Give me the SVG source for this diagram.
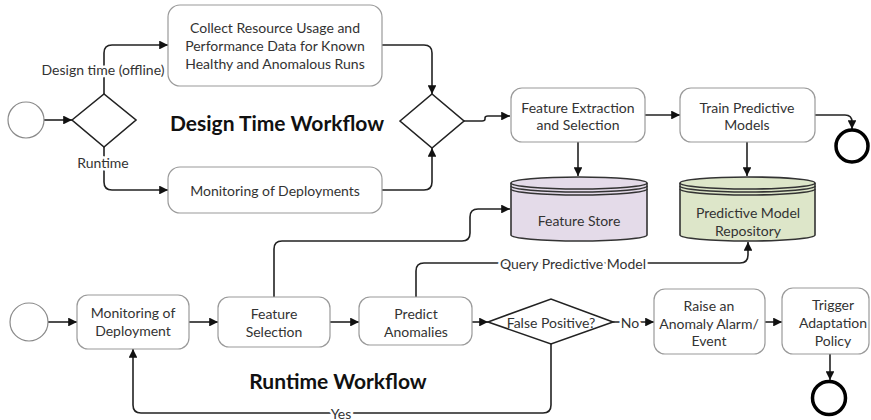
<svg xmlns="http://www.w3.org/2000/svg" width="871" height="420" viewBox="0 0 871 420">
  <style>
    .box { fill: #ffffff; stroke: #9a9a9a; stroke-width: 1.2; }
    .gw { fill: #ffffff; stroke: #222222; stroke-width: 1.6; }
    .start { fill: #ffffff; stroke: #8a8a8a; stroke-width: 1.2; }
    .end { fill: #ffffff; stroke: #000000; stroke-width: 3.5; }
    .edge { fill: none; stroke: #222222; stroke-width: 1.6; marker-end: url(#arrow); }
    .line { fill: none; stroke: #222222; stroke-width: 1.6; }
    .db { stroke: #333333; stroke-width: 1.6; }
    text { font-family: "Lato", "Liberation Sans", sans-serif; font-size: 14px; fill: #333333; text-anchor: middle; dominant-baseline: central; }
    .title { font-size: 21px; font-weight: bold; fill: #111111; }
    .lbl { stroke: #ffffff; stroke-width: 5; paint-order: stroke; stroke-linejoin: round; }
  </style>
  <defs>
    <marker id="arrow" viewBox="0 0 10 10" refX="10" refY="5" markerWidth="5.5" markerHeight="5.5" orient="auto" markerUnits="strokeWidth">
      <path d="M0,0 L10,5 L0,10 z" fill="#111111"/>
    </marker>
  </defs>

  <!-- connectors -->
  <g id="connectors">
    <!-- design time flow -->
    <path class="edge" d="M44,120 H72"/>
    <path class="edge" d="M104,94 V53 Q104,45 112,45 H168"/>
    <path class="edge" d="M104,147 V182 Q104,190 112,190 H168"/>
    <path class="edge" d="M382,45 H424 Q432,45 432,53 V94"/>
    <path class="edge" d="M382,190 H424 Q432,190 432,182 V148"/>
    <path class="edge" d="M464,121 H482 Q485,121 485,119 V118 Q485,116 488,116 H510"/>
    <path class="edge" d="M645,115 H680"/>
    <path class="edge" d="M815,115 H845 Q852,115 852,122 V129"/>
    <path class="edge" d="M578,142 V176"/>
    <path class="edge" d="M747,142 V176"/>
    <!-- runtime flow -->
    <path class="edge" d="M48,322 H77"/>
    <path class="edge" d="M189,322 H218"/>
    <path class="edge" d="M330,322 H359"/>
    <path class="edge" d="M472,322 H488"/>
    <path class="edge" d="M613,322 H654"/>
    <path class="edge" d="M765,322 H782"/>
    <path class="edge" d="M830,354 V380"/>
    <path class="edge" d="M274,297 V249 Q274,241 282,241 H462 Q470,241 470,233 V217 Q470,209 478,209 H510"/>
    <path class="edge" d="M416,297 V271 Q416,263 424,263 H740 Q748,263 748,255 V242"/>
    <path class="edge" d="M551,344 V405 Q551,413 543,413 H141 Q133,413 133,405 V349"/>
    <!-- edge labels -->
    <text class="lbl" x="103" y="69">Design time (offline)</text>
    <text class="lbl" x="103" y="162">Runtime</text>
    <text class="lbl" x="573" y="263">Query Predictive Model</text>
    <text class="lbl" x="630" y="322">No</text>
    <text class="lbl" x="341" y="413">Yes</text>
  </g>

  <!-- design time workflow -->
  <g id="start-design"><circle class="start" cx="26" cy="120" r="18"/></g>
  <g id="gw-split"><polygon class="gw" points="72,120 104,94 136,120 104,147"/></g>
  <g id="collect">
    <rect class="box" x="168" y="5" width="214" height="81" rx="12"/>
    <text x="275" y="27">Collect Resource Usage and</text>
    <text x="275" y="45">Performance Data for Known</text>
    <text x="275" y="63">Healthy and Anomalous Runs</text>
  </g>
  <g id="monitor-deployments">
    <rect class="box" x="168" y="167" width="214" height="46" rx="12"/>
    <text x="275" y="190">Monitoring of Deployments</text>
  </g>
  <g id="gw-merge"><polygon class="gw" points="400,121 432,94 464,121 432,148"/></g>
  <g id="feature-extraction">
    <rect class="box" x="511" y="88" width="134" height="54" rx="11"/>
    <text x="578" y="107">Feature Extraction</text>
    <text x="578" y="124">and Selection</text>
  </g>
  <g id="train-models">
    <rect class="box" x="680" y="88" width="135" height="54" rx="11"/>
    <text x="747" y="107">Train Predictive</text>
    <text x="747" y="124">Models</text>
  </g>
  <g id="end-design"><circle class="end" cx="852" cy="146" r="16"/></g>
  <text class="title" x="277" y="122">Design Time Workflow</text>

  <!-- data stores -->
  <g id="feature-store">
    <path class="db" fill="#e4dbe9" d="M511,183 V235 A68,6 0 0 0 647,235 V183 A68,6 0 0 0 511,183 z"/>
    <path class="db" fill="none" d="M511,186 A68,6 0 0 0 647,186 M511,189 A68,6 0 0 0 647,189 M511,183 A68,6 0 0 0 647,183"/>
    <text x="579" y="220">Feature Store</text>
  </g>
  <g id="model-repository">
    <path class="db" fill="#dde6c9" d="M680,183 V235 A67.5,6 0 0 0 815,235 V183 A67.5,6 0 0 0 680,183 z"/>
    <path class="db" fill="none" d="M680,186 A67.5,6 0 0 0 815,186 M680,189 A67.5,6 0 0 0 815,189 M680,183 A67.5,6 0 0 0 815,183"/>
    <text x="748" y="212">Predictive Model</text>
    <text x="748" y="230">Repository</text>
  </g>

  <!-- runtime workflow -->
  <g id="start-runtime"><circle class="start" cx="29" cy="322" r="19"/></g>
  <g id="monitor-deployment">
    <rect class="box" x="77" y="295" width="112" height="54" rx="11"/>
    <text x="133" y="312">Monitoring of</text>
    <text x="133" y="330">Deployment</text>
  </g>
  <g id="feature-selection">
    <rect class="box" x="218" y="297" width="112" height="50" rx="11"/>
    <text x="274" y="313">Feature</text>
    <text x="274" y="331">Selection</text>
  </g>
  <g id="predict-anomalies">
    <rect class="box" x="359" y="297" width="113" height="48" rx="11"/>
    <text x="416" y="313">Predict</text>
    <text x="416" y="331">Anomalies</text>
  </g>
  <g id="false-positive">
    <polygon class="gw" points="488,322 551,299 613,322 551,344"/>
    <text x="551" y="322">False Positive?</text>
  </g>
  <g id="raise-alarm">
    <rect class="box" x="654" y="289" width="111" height="65" rx="11"/>
    <text x="709" y="305">Raise an</text>
    <text x="709" y="323">Anomaly Alarm/</text>
    <text x="709" y="340">Event</text>
  </g>
  <g id="trigger-adaptation">
    <rect class="box" x="782" y="288" width="87" height="66" rx="11"/>
    <text x="833" y="304">Trigger</text>
    <text x="833" y="322">Adaptation</text>
    <text x="833" y="340">Policy</text>
  </g>
  <g id="end-runtime"><circle class="end" cx="829" cy="398" r="16.5"/></g>
  <text class="title" x="338" y="380">Runtime Workflow</text>
</svg>
